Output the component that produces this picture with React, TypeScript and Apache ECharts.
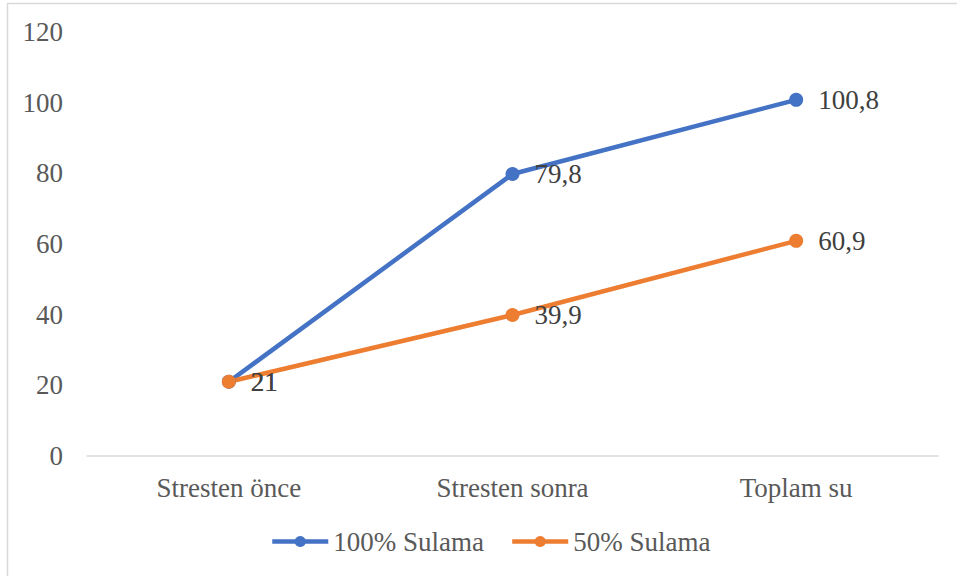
import React, { useEffect, useRef } from "react";
import * as echarts from "echarts";

const categories = ["Stresten önce", "Stresten sonra", "Toplam su"];
const seriesNames = ["100% Sulama", "50% Sulama"];
const full = [21, 79.8, 100.8];
const half = [21, 39.9, 60.9];
const yTicks = { min: 0, max: 120, interval: 20 };

const FONT = "Liberation Serif";

export default function App() {
  const ref = useRef<HTMLDivElement>(null);
  useEffect(() => {
    document.body.style.margin = "0";
    const chart = echarts.init(ref.current!, null, { renderer: "svg" });
    const label = {
      show: true,
      position: "right",
      distance: 15,
      color: "#404040",
      fontSize: 27,
      fontFamily: FONT,
      formatter: (p: any) => String(p.value).replace(".", ","),
    };
    chart.setOption({
      animation: false,
      backgroundColor: "#ffffff",
      textStyle: { fontFamily: FONT },
      graphic: [
        {
          type: "rect",
          shape: { x: 7.5, y: 3.5, width: 1200, height: 800 },
          style: { fill: "none", stroke: "#d9d9d9", lineWidth: 1.5 },
          silent: true,
          z: -10,
        },
      ],
      grid: { left: 87, right: 19, top: 32, bottom: 120 },
      legend: {
        left: 265,
        top: 523,
        itemWidth: 56,
        itemHeight: 14,
        itemGap: 26,
        lineStyle: { width: 4.5 },
        textStyle: { fontSize: 27, color: "#595959", fontFamily: FONT },
        data: seriesNames,
      },
      xAxis: {
        type: "category",
        data: categories,
        boundaryGap: true,
        axisLine: { lineStyle: { color: "#d9d9d9", width: 1.5 } },
        axisTick: { show: false },
        axisLabel: { fontSize: 27, color: "#595959", fontFamily: FONT, margin: 18 },
        splitLine: { show: false },
      },
      yAxis: {
        type: "value",
        min: yTicks.min,
        max: yTicks.max,
        interval: yTicks.interval,
        axisLine: { show: false },
        axisTick: { show: false },
        splitLine: { show: false },
        axisLabel: { fontSize: 27, color: "#595959", fontFamily: FONT, margin: 24 },
      },
      series: [
        {
          name: seriesNames[0],
          type: "line",
          data: full,
          symbol: "circle",
          symbolSize: 14,
          color: "#4472C4",
          lineStyle: { width: 4.5, color: "#4472C4" },
          itemStyle: { color: "#4472C4" },
          label,
        },
        {
          name: seriesNames[1],
          type: "line",
          data: half,
          symbol: "circle",
          symbolSize: 14,
          color: "#ED7D31",
          lineStyle: { width: 4.5, color: "#ED7D31" },
          itemStyle: { color: "#ED7D31" },
          label,
        },
      ],
    });
    return () => chart.dispose();
  }, []);
  return <div ref={ref} style={{ width: 957, height: 576 }} />;
}
